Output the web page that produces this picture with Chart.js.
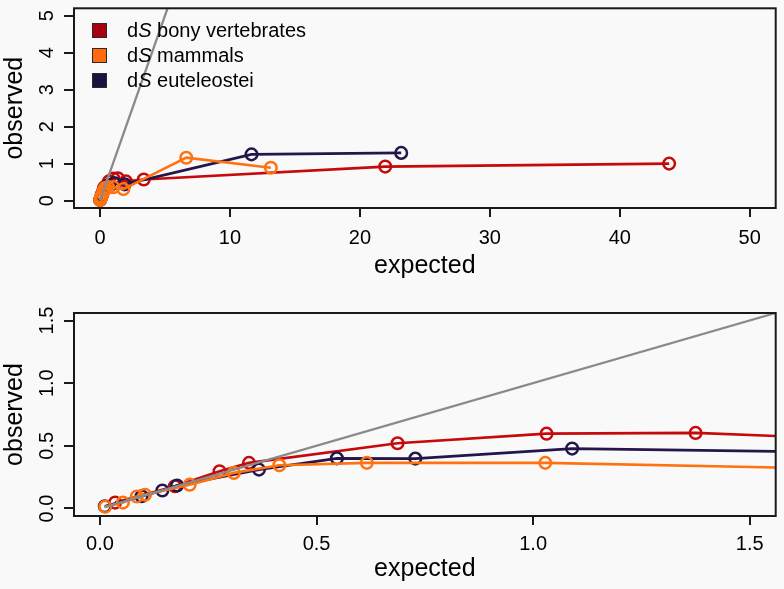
<!DOCTYPE html>
<html>
<head>
<meta charset="utf-8">
<title>dS observed vs expected</title>
<script src="https://cdn.jsdelivr.net/npm/chart.js@4.4.1/dist/chart.umd.min.js"></script>
<style>
  body { margin: 0; background: #faf9fa; font-family: "Liberation Sans", Arial, Helvetica, sans-serif; }
  #wrap { position: relative; width: 784px; height: 589px; }
  .panel { position: absolute; left: 0; width: 784px; }
  #top { top: 0; height: 294px; }
  #bottom { top: 294px; height: 295px; }
  #legend { position: absolute; left: 92px; top: 18px; font-size: 20px; color: #000; }
  #legend .row { display: flex; align-items: center; height: 25px; line-height: 25px; }
  #legend .box { width: 13px; height: 13px; border: 1px solid #2a2a2a; margin-right: 20px; }
</style>
</head>
<body>
<div id="wrap">
  <div class="panel" id="top"><canvas id="fullRange"></canvas></div>
  <div class="panel" id="bottom"><canvas id="zoomRange"></canvas></div>
  <div id="legend"></div>
</div>
<script>
// series (expected -> observed)
const seriesNames = ['bony vertebrates', 'mammals', 'euteleostei'];
const bonyX = [0.035, 0.173, 0.276, 0.344, 0.687, 1.031, 1.375, 2.0, 3.37, 21.95, 43.8];
const bonyY = [0.047, 0.178, 0.297, 0.364, 0.52, 0.597, 0.603, 0.52, 0.57, 0.92, 1.0];
const mammalsX = [0.012, 0.053, 0.085, 0.104, 0.207, 0.309, 0.414, 0.616, 1.028, 1.8, 6.64, 13.15];
const mammalsY = [0.014, 0.047, 0.096, 0.11, 0.19, 0.284, 0.345, 0.364, 0.364, 0.31, 1.16, 0.89];
const euteleosteiX = [0.011, 0.096, 0.144, 0.178, 0.367, 0.547, 0.728, 1.09, 1.9, 11.66, 23.18];
const euteleosteiY = [0.018, 0.098, 0.143, 0.183, 0.31, 0.4, 0.398, 0.478, 0.44, 1.25, 1.29];
const identity = [0.01, 60];

// tick labels
const fullXTicks = [0, 10, 20, 30, 40, 50];
const fullYTicks = [0, 1, 2, 3, 4, 5];
const zoomXTicks = [0, 0.5, 1, 1.5];
const zoomYTicks = [0, 0.5, 1, 1.5];

const seriesColors = ['#c40a0a', '#ff7210', '#24164a'];
const legendColors = ['#a8000c', '#ff6a10', '#1c1240'];
const fontFamily = '"Liberation Sans", Arial, Helvetica, sans-serif';

Chart.defaults.font.family = fontFamily;
Chart.defaults.color = '#000';

const plotBox = {
  id: 'plotBox',
  afterDraw(chart) {
    const { ctx, chartArea: a } = chart;
    ctx.save();
    ctx.strokeStyle = '#1a1a1a';
    ctx.lineWidth = 2;
    ctx.strokeRect(a.left, a.top, a.right - a.left, a.bottom - a.top);
    ctx.restore();
  },
};

function toPoints(xs, ys) {
  return xs.map((x, i) => ({ x: x, y: ys[i] }));
}

function buildDatasets() {
  const xs = [bonyX, mammalsX, euteleosteiX];
  const ys = [bonyY, mammalsY, euteleosteiY];
  const drawOrder = [3, 1, 2];
  const sets = seriesNames.map((name, i) => ({
    label: 'dS ' + name,
    data: toPoints(xs[i], ys[i]),
    showLine: true,
    borderColor: seriesColors[i],
    borderWidth: 2.6,
    pointRadius: 5.8,
    pointBorderWidth: 2.5,
    pointBackgroundColor: 'rgba(0,0,0,0)',
    pointBorderColor: seriesColors[i],
    tension: 0,
    clip: 0,
    order: drawOrder[i],
  }));
  sets.push({
    label: 'y = x',
    data: toPoints(identity, identity),
    showLine: true,
    borderColor: '#8c8a86',
    borderWidth: 2.3,
    pointRadius: 0,
    clip: 0,
    order: 0,
  });
  return sets;
}

function axisOptions(cfg) {
  const tickStyle = { drawOnChartArea: false, drawTicks: true, color: '#1a1a1a', lineWidth: 2 };
  return {
    x: {
      type: 'linear',
      min: cfg.xMin,
      max: cfg.xMax,
      afterBuildTicks: (axis) => { axis.ticks = cfg.xTicks.map((v) => ({ value: v })); },
      afterFit: (axis) => {
        axis.height = cfg.xHeight;
        axis.paddingLeft = 0;
        axis.paddingRight = 0;
      },
      grid: Object.assign({ tickLength: 9 }, tickStyle),
      border: { display: false },
      ticks: {
        autoSkip: false,
        maxRotation: 0,
        padding: cfg.xPad,
        font: { size: 20 },
        callback: (v) => v.toFixed(cfg.digits),
      },
      title: { display: true, text: 'expected', font: { size: 25 }, padding: { top: 0, bottom: cfg.titlePad } },
    },
    y: {
      type: 'linear',
      min: cfg.yMin,
      max: cfg.yMax,
      afterBuildTicks: (axis) => { axis.ticks = cfg.yTicks.map((v) => ({ value: v })); },
      afterFit: (axis) => {
        axis.width = 74;
        axis.paddingTop = 0;
        axis.paddingBottom = 0;
      },
      grid: Object.assign({ tickLength: 10 }, tickStyle),
      border: { display: false },
      ticks: {
        autoSkip: false,
        minRotation: 90,
        maxRotation: 90,
        crossAlign: 'center',
        padding: cfg.yPad,
        font: { size: 20 },
        callback: (v) => v.toFixed(cfg.digits),
      },
      title: { display: true, text: 'observed', font: { size: 25 }, padding: { top: 0, bottom: 0 } },
    },
  };
}

function makeChart(id, cfg) {
  return new Chart(id, {
    type: 'scatter',
    data: { datasets: buildDatasets() },
    options: {
      responsive: true,
      maintainAspectRatio: false,
      animation: false,
      layout: { padding: { left: 0, right: 5, top: cfg.top, bottom: 0 } },
      plugins: { legend: { display: false }, tooltip: { enabled: false } },
      scales: axisOptions(cfg),
    },
    plugins: [plotBox],
  });
}

makeChart('fullRange', {
  xMin: -2, xMax: 52, yMin: -0.2, yMax: 5.2,
  xTicks: fullXTicks, yTicks: fullYTicks, digits: 0,
  top: 5, xHeight: 86, xPad: 9, yPad: 11, titlePad: 13,
});

makeChart('zoomRange', {
  xMin: -0.06, xMax: 1.56, yMin: -0.06, yMax: 1.56,
  xTicks: zoomXTicks, yTicks: zoomYTicks, digits: 1,
  top: 19, xHeight: 73, xPad: 7, yPad: 3, titlePad: 5,
});

// legend with italic S, as in the figure
const legend = document.getElementById('legend');
seriesNames.forEach((name, i) => {
  const row = document.createElement('div');
  row.className = 'row';
  row.innerHTML = '<span class="box" style="background:' + legendColors[i] + '"></span>' +
    '<span>d<i>S</i> ' + name + '</span>';
  legend.appendChild(row);
});
</script>
</body>
</html>
